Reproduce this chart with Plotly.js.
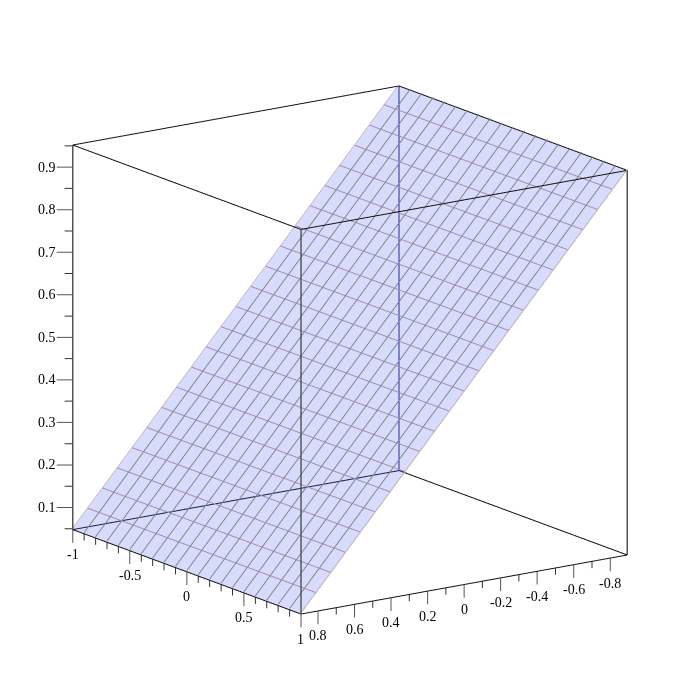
<!DOCTYPE html>
<html><head><meta charset="utf-8">
<script src="https://cdn.plot.ly/plotly-3.0.1.min.js"></script>
<style>html,body{margin:0;padding:0;background:#fff}#gd{width:700px;height:700px}</style></head>
<body><div id="gd"></div>
<script>
// box limits
const xLim = [-1, 1];
const yLim = [-0.893, 0.893];
const zLim = [0.048, 0.952];
// surface mesh
const gridX = [-1,-0.9,-0.8,-0.7,-0.6,-0.5,-0.4,-0.3,-0.2,-0.1,0,0.1,0.2,0.3,0.4,0.5,0.6,0.7,0.8,0.9,1];
const gridY = [-0.893,-0.8118,-0.7306,-0.6495,-0.5683,-0.4871,-0.4059,-0.3247,-0.2435,-0.1624,-0.0812,0,0.0812,0.1624,0.2435,0.3247,0.4059,0.4871,0.5683,0.6495,0.7306,0.8118,0.893];
const gridZ = [0.952,0.9109,0.8698,0.8287,0.7876,0.7465,0.7055,0.6644,0.6233,0.5822,0.5411,0.5,0.4589,0.4178,0.3767,0.3356,0.2945,0.2535,0.2124,0.1713,0.1302,0.0891,0.048];
// ticks
const xMajor = [-1,-0.5,0,0.5,1];
const xMinor = [-0.9,-0.8,-0.7,-0.6,-0.4,-0.3,-0.2,-0.1,0.1,0.2,0.3,0.4,0.6,0.7,0.8,0.9];
const xLabels = ['-1','-0.5','0','0.5','1'];
const yMajor = [0.8,0.6,0.4,0.2,0,-0.2,-0.4,-0.6,-0.8];
const yMinor = [0.7,0.5,0.3,0.1,-0.1,-0.3,-0.5,-0.7];
const yLabels = ['0.8','0.6','0.4','0.2','0','-0.2','-0.4','-0.6','-0.8'];
const zMajor = [0.1,0.2,0.3,0.4,0.5,0.6,0.7,0.8,0.9];
const zMinor = [0.05,0.15,0.25,0.35,0.45,0.55,0.65,0.75,0.85,0.95];
const zLabels = ['0.1','0.2','0.3','0.4','0.5','0.6','0.7','0.8','0.9'];

const [x0,x1]=xLim,[y0,y1]=yLim,[z0,z1]=zLim;
const pad=1.2;
const zc=(z0+z1)/2, zh=(z1-z0)/2*pad;
const zTickLen=[0.031,0.016];            // in z units (drop of x/y ticks)
const leftDx=[0.0455,0.023], leftDy=[0.0593,0.030]; // z ticks go screen-left
const lift=0.003;                        // mesh lines sit just above the surface

function seg(list){const o={x:[],y:[],z:[]};list.forEach(s=>{o.x.push(s[0][0],s[1][0],null);o.y.push(s[0][1],s[1][1],null);o.z.push(s[0][2],s[1][2],null);});return o;}
function lineTrace(list,color,width){const s=seg(list);return {type:'scatter3d',mode:'lines',x:s.x,y:s.y,z:s.z,line:{color,width},hoverinfo:'skip',showlegend:false,connectgaps:false};}

const blackEdges=[
 [[x0,y1,z0],[x1,y1,z0]],[[x1,y1,z0],[x1,y0,z0]],[[x1,y0,z0],[x0,y0,z0]],[[x0,y0,z0],[x0,y1,z0]],
 [[x0,y1,z1],[x1,y1,z1]],[[x1,y1,z1],[x1,y0,z1]],[[x1,y0,z1],[x0,y0,z1]],[[x0,y0,z1],[x0,y1,z1]]];
const greyEdges=[[[x0,y1,z0],[x0,y1,z1]],[[x1,y1,z0],[x1,y1,z1]],[[x1,y0,z0],[x1,y0,z1]]];
const blueEdges=[[[x0,y0,z0],[x0,y0,z1]]];
const majorTicks=[], minorTicks=[];
xMajor.forEach(v=>majorTicks.push([[v,y1,z0],[v,y1,z0-zTickLen[0]]]));
xMinor.forEach(v=>minorTicks.push([[v,y1,z0],[v,y1,z0-zTickLen[1]]]));
yMajor.forEach(v=>majorTicks.push([[x1,v,z0],[x1,v,z0-zTickLen[0]]]));
yMinor.forEach(v=>minorTicks.push([[x1,v,z0],[x1,v,z0-zTickLen[1]]]));
zMajor.forEach(v=>majorTicks.push([[x0,y1,v],[x0-leftDx[0],y1+leftDy[0],v]]));
zMinor.forEach(v=>minorTicks.push([[x0,y1,v],[x0-leftDx[1],y1+leftDy[1],v]]));

// mesh lines drawn over the surface
const steepLines=[], shallowLines=[], sideLines=[];
const lastX=gridX.length-1, lastY=gridY.length-1;
gridX.forEach((v,i)=>{
  const t=[[v,gridY[0],gridZ[0]+lift],[v,gridY[lastY],gridZ[lastY]+lift]];
  (i===0||i===lastX?sideLines:steepLines).push(t);
});
gridY.forEach((v,i)=>{ if(i>0&&i<lastY) shallowLines.push([[x0,v,gridZ[i]+lift],[x1,v,gridZ[i]+lift]]); });

const surf={type:'surface',x:gridX,y:gridY,z:gridY.map((_,i)=>gridX.map(()=>gridZ[i])),
 showscale:false,opacity:0.22,hoverinfo:'skip',
 colorscale:[[0,'#4e60f1'],[1,'#4e60f1']],
 lighting:{ambient:1,diffuse:0,specular:0,roughness:1,fresnel:0},
 contours:{x:{show:false,highlight:false},y:{show:false,highlight:false},z:{show:false,highlight:false}}};

const font={family:'Liberation Serif, Times New Roman, serif',size:14,color:'#000'};
const annos=[];
xMajor.forEach((v,i)=>annos.push({x:v,y:y1,z:z0,text:xLabels[i],showarrow:false,xanchor:'center',yanchor:'middle',yshift:-25,font}));
yMajor.forEach((v,i)=>annos.push({x:x1,y:v,z:z0,text:yLabels[i],showarrow:false,xanchor:'center',yanchor:'middle',yshift:-25,font}));
zMajor.forEach((v,i)=>annos.push({x:x0,y:y1,z:v,text:zLabels[i],showarrow:false,xanchor:'right',yanchor:'middle',xshift:-15,font}));

const hidden=r=>({visible:false,range:r,showgrid:false,zeroline:false,showbackground:false,showspikes:false});
const D=2, asp=1.2*1.1376;
const layout={width:700,height:700,margin:{l:0,r:0,t:0,b:0},paper_bgcolor:'#fff',showlegend:false,
 scene:{domain:{x:[0,1],y:[0,1]},
  xaxis:hidden([x0*pad,x1*pad]),
  yaxis:hidden([y1*pad,y0*pad]),
  zaxis:hidden([zc-zh,zc+zh]),
  aspectmode:'manual',aspectratio:{x:asp,y:asp,z:asp},
  camera:{projection:{type:'orthographic'},up:{x:0,y:0,z:1},center:{x:0,y:0,z:0},
   eye:{x:D*0.7916,y:-D*0.5538,z:D*0.2588}},
  annotations:annos}};
Plotly.newPlot('gd',[surf,
 lineTrace(steepLines,'#80808f',2),lineTrace(shallowLines,'#a08cac',2),lineTrace(sideLines,'#c0b0c4',2),
 lineTrace(blackEdges,'#111111',2),lineTrace(greyEdges,'#4f5454',3),lineTrace(blueEdges,'#1a1a80',2),
 lineTrace(majorTicks,'#555555',2),lineTrace(minorTicks,'#333333',2)],layout,{displayModeBar:false});
</script></body></html>
